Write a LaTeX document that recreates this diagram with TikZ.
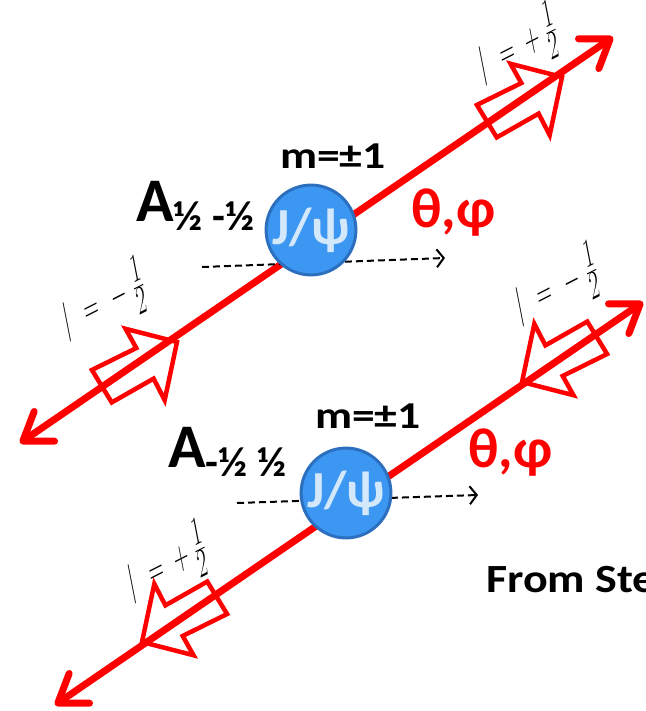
\RequirePackage{fix-cm}
\documentclass[tikz,border=0pt]{standalone}
\usepackage{amsmath}
\usepackage{fontspec}
\setmainfont{Carlito}
\usetikzlibrary{arrows.meta,positioning}
\definecolor{psiblue}{HTML}{3C97F2}
\definecolor{psiedge}{HTML}{2C6FBF}
\definecolor{psitext}{HTML}{D4E8FB}
\tikzset{>=latex}
\tikzset{
  % the two muon tracks
  track/.style={red, line width=7pt,
    {Straight Barb[round,length=26pt,width=36pt]}-{Straight Barb[round,length=26pt,width=36pt]}},
  % hollow spin arrows
  spin/.style={red, line width=4.5pt, line join=miter},
  quantaxis/.style={black, line width=2pt, dash pattern=on 7pt off 4pt,
    -{Straight Barb[length=7pt,width=18pt]}},
  meson/.style={circle, fill=psiblue, draw=psiedge, line width=3pt,
    minimum size=84pt, inner sep=0pt, text=psitext,
    font=\bfseries\fontsize{52}{52}\selectfont},
  bigtxt/.style={inner sep=0pt, font=\bfseries\fontsize{38}{38}\selectfont},
  angtxt/.style={inner sep=0pt, red, font=\bfseries\fontsize{56}{56}\selectfont},
  hel/.style={inner sep=0pt, font=\fontsize{40}{40}\selectfont,
    cm={0.490,0.250,-0.191,0.982,(0,0)}}
}
\newcommand{\half}{\frac{\displaystyle 1}{\displaystyle 2}}
\begin{document}
\begin{tikzpicture}[x=1pt,y=-1pt]
  \clip (0,0) rectangle (645,711);
  \useasboundingbox (0,0) rectangle (645,711);
  % track ends
  \coordinate (t1a) at (20,443);
  \coordinate (t1b) at (613,37);
  \coordinate (t2a) at (55,705);
  \coordinate (t2b) at (643,302);
  \draw[track] (t1a) -- (t1b);
  \draw[track] (t2a) -- (t2b);
  % spin arrows
  \foreach \x/\y/\a in {562/77/34.4, 177/342/34.4, 522/382/214.4, 142/642/214.4}
    \draw[spin, shift={(\x,\y)}, rotate=\a]
      (0,0) -- (-35,-40) -- (-37,-18) -- (-86,-25) -- (-88,13)
      -- (-40,17) -- (-43,41) -- cycle;
  % quantisation axes
  \coordinate (q1a) at (202,267);
  \coordinate (q1b) at (445,258);
  \coordinate (q2a) at (237,503);
  \coordinate (q2b) at (478,495);
  \draw[quantaxis] (q1a) -- (q1b);
  \draw[quantaxis] (q2a) -- (q2b);
  % J/psi
  \node[meson] (psi1) at (311,230) {J/ψ};
  \node[meson] (psi2) at (346,493) {J/ψ};
  % labels
  \node[bigtxt, xscale=1.2] (m1) at (333,156) {m=±1};
  \node[bigtxt, xscale=1.2] (m2) at (368,416) {m=±1};
  \node[inner sep=0pt, anchor=base west] (amp1) at (136,222)
    {\bfseries\fontsize{62}{62}\selectfont A\fontsize{42}{42}\selectfont\raisebox{-9pt}{½ -½}};
  \node[inner sep=0pt, anchor=base west] (amp2) at (168,467)
    {\bfseries\fontsize{62}{62}\selectfont A\fontsize{42}{42}\selectfont\raisebox{-9pt}{-½ ½}};
  \node[angtxt, anchor=base west] (ang1) at (411,227) {θ,φ};
  \node[angtxt, anchor=base west] (ang2) at (468,467) {θ,φ};
  \node[bigtxt, xscale=1.15, font=\bfseries\fontsize{40}{40}\selectfont, anchor=base west]
    (src) at (486,592) {From Ste};
  % helicities
  \node[hel] (h1) at (518,46) {$|\mkern13mu{=}\mkern10mu{+}\mkern6mu\half$};
  \node[hel] (h2) at (104,302) {$|\mkern13mu{=}\mkern12mu{-}\mkern6mu\half$};
  \node[hel] (h3) at (557,287) {$|\mkern13mu{=}\mkern12mu{-}\mkern6mu\half$};
  \node[hel] (h4) at (167,564) {$|\mkern13mu{=}\mkern10mu{+}\mkern6mu\half$};
\end{tikzpicture}
\end{document}
